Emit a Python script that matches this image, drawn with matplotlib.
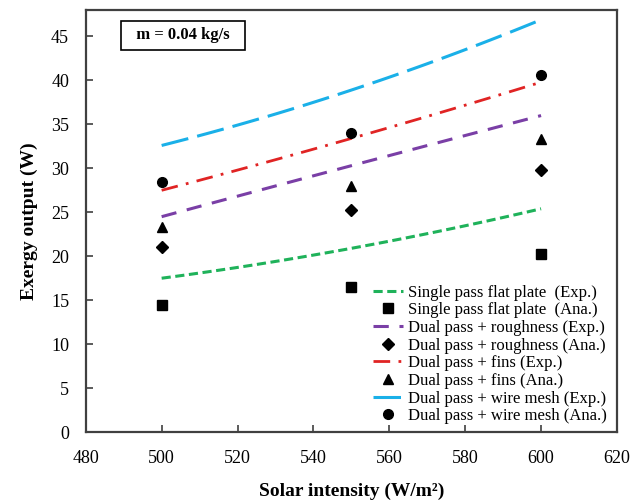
import numpy as np
import matplotlib
matplotlib.use("Agg")
from matplotlib import pyplot as plt

# solar intensity (W/m2)
intensity = [500, 550, 600]

# experimental curves (W)
single_exp = [17.5, 20.9, 25.4]
rough_exp = [24.5, 30.3, 36.0]
fins_exp = [27.5, 33.4, 39.8]
mesh_exp = [32.6, 38.9, 46.9]

# analytical points (W)
single_ana = [14.5, 16.5, 20.3]
rough_ana = [21.0, 25.3, 29.8]
fins_ana = [23.3, 28.0, 33.3]
mesh_ana = [28.5, 34.0, 40.6]

plt.rcParams['font.family'] = ['Liberation Serif', 'DejaVu Serif']


def smooth(x, y):
    # smooth line through the three points, like the spreadsheet curve
    c = np.polyfit(x, y, 2)
    xs = np.linspace(x[0], x[-1], 60)
    return xs, np.polyval(c, xs)


fig = plt.figure(figsize=(6.4, 5.03), dpi=100)
ax = fig.add_axes([0.134, 0.141, 0.830, 0.839])

xs, ys = smooth(intensity, single_exp)
ax.plot(xs, ys, color='#1fb25a', lw=2.2, dashes=(3, 1.5), label='Single pass flat plate  (Exp.)')
ax.plot(intensity, single_ana, 's', color='black', ms=7, ls='none', label='Single pass flat plate  (Ana.)')

xs, ys = smooth(intensity, rough_exp)
ax.plot(xs, ys, color='#7a3fa6', lw=2.2, dashes=(5, 3.5), label='Dual pass + roughness (Exp.)')
ax.plot(intensity, rough_ana, 'D', color='black', ms=6, ls='none', label='Dual pass + roughness (Ana.)')

xs, ys = smooth(intensity, fins_exp)
ax.plot(xs, ys, color='#e02424', lw=2.0, dashes=(6, 3, 1, 3), label='Dual pass + fins (Exp.)')
ax.plot(intensity, fins_ana, '^', color='black', ms=7, ls='none', label='Dual pass + fins (Ana.)')

xs, ys = smooth(intensity, mesh_exp)
ax.plot(xs, ys, color='#1ab0e8', lw=2.2, dashes=(9, 3), label='Dual pass + wire mesh (Exp.)')
ax.plot(intensity, mesh_ana, 'o', color='black', ms=7, ls='none', label='Dual pass + wire mesh (Ana.)')

ax.set_xlim(480, 620)
ax.set_ylim(0, 48)
ax.set_xticks(np.arange(480, 621, 20))
ax.set_yticks(np.arange(0, 46, 5))
ax.tick_params(direction='in', length=5, width=1.2, labelsize=13, color='#404040')
ax.tick_params(axis='x', pad=13)
ax.tick_params(axis='y', pad=12)

for s in ax.spines.values():
    s.set_color('#404040')
    s.set_linewidth(1.6)

ax.set_xlabel('Solar intensity (W/m²)', fontsize=14, fontweight='bold', labelpad=11)
ax.set_ylabel('Exergy output (W)', fontsize=14, fontweight='bold', labelpad=9)

ax.text(0.183, 0.94, '  m = 0.04 kg/s  ', transform=ax.transAxes, fontsize=12,
        fontweight='bold', ha='center', va='center',
        bbox=dict(boxstyle='square,pad=0.4', fc='white', ec='black', lw=1.2))

ax.legend(loc='lower right', frameon=False, fontsize=12, handlelength=1.8,
          handletextpad=0.3, labelspacing=0.1, borderaxespad=0.2,
          bbox_to_anchor=(1.0, -0.005))

fig.savefig('out.png', dpi=100)
